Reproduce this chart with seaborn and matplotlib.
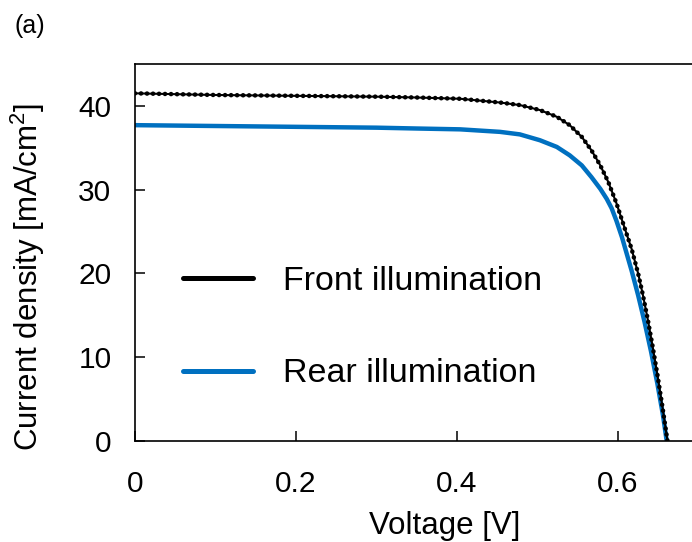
import pandas as pd
import seaborn as sns
import matplotlib.pyplot as plt
from matplotlib.lines import Line2D

# --- DANE ---
napiecie_front = [0.0, 0.1, 0.2, 0.3, 0.35, 0.404, 0.4534, 0.478, 0.503, 0.524, 0.54, 0.555,
                  0.567, 0.578, 0.588, 0.598, 0.609, 0.617, 0.625, 0.631, 0.637, 0.643,
                  0.649, 0.655, 0.6615]
prad_front = [41.5, 41.3, 41.2, 41.1, 41.0, 40.85, 40.4, 40.1, 39.5, 38.7, 37.7, 36.3,
              34.7, 32.9, 30.9, 28.4, 25.2, 22.9, 20.0, 17.4, 14.5, 11.3,
              7.9, 4.2, 0.0]

napiecie_rear = [0.0, 0.1, 0.2, 0.3, 0.35, 0.404, 0.4534, 0.478, 0.503, 0.524, 0.54, 0.555,
                 0.567, 0.578, 0.586, 0.592, 0.598, 0.605, 0.617, 0.625, 0.633, 0.641,
                 0.649, 0.656, 0.6605]
prad_rear = [37.7, 37.6, 37.5, 37.4, 37.3, 37.2, 36.9, 36.6, 35.9, 35.1, 34.1, 32.9,
             31.5, 30.1, 28.9, 27.8, 26.3, 24.3, 20.3, 17.4, 14.2, 10.7,
             6.8, 3.0, 0.0]

etykiety = ['Front illumination', 'Rear illumination']
kolory = ['black', '#0070C0']
x_ticks = [0, 0.2, 0.4, 0.6]
y_ticks = [0, 10, 20, 30, 40]

# --- STYL ---
sns.set_theme(style="ticks")
plt.rcParams['font.family'] = ['Liberation Sans', 'DejaVu Sans']
plt.rcParams['mathtext.fontset'] = 'custom'
plt.rcParams['mathtext.rm'] = 'Liberation Sans'
for klucz in ['text.color', 'axes.labelcolor', 'xtick.color', 'ytick.color', 'axes.edgecolor']:
    plt.rcParams[klucz] = 'black'

df_front = pd.DataFrame({'V': napiecie_front, 'J': prad_front})
df_rear = pd.DataFrame({'V': napiecie_rear, 'J': prad_rear})

fig = plt.figure(figsize=(6.92, 5.42), dpi=100)
# os X wychodzi poza prawa krawedz rysunku (jak w oryginale)
ax = fig.add_axes([135 / 692, 101 / 542, 644 / 692, 377 / 542])

# Tyl - linia ciagla
sns.lineplot(data=df_rear, x='V', y='J', ax=ax, color=kolory[1], linewidth=3.2,
             estimator=None, sort=False)
# Przod - cienka linia + kropki
sns.lineplot(data=df_front, x='V', y='J', ax=ax, color=kolory[0], linewidth=1.5,
             estimator=None, sort=False)
ax.lines[-1].set_zorder(3)
sns.lineplot(data=df_front, x='V', y='J', ax=ax, color=kolory[0], linewidth=3.3,
             estimator=None, sort=False)
linia_front = ax.lines[-1]
linia_front.set_linestyle((0, (0.01, 1.3)))
linia_front.set_dash_capstyle('round')
linia_front.set_zorder(3)

ax.set_xlim(0, 0.8)
ax.set_ylim(0, 45)
ax.set_xticks(x_ticks)
ax.set_xticklabels(['0', '0.2', '0.4', '0.6'])
ax.set_yticks(y_ticks)

for s in ax.spines.values():
    s.set_linewidth(1.2)
ax.tick_params(direction='in', length=7, width=1.1, labelsize=21.5)
ax.tick_params(axis='x', pad=21)
ax.tick_params(axis='y', pad=17)

ax.set_xlabel('Voltage [V]', fontsize=22.5)
ax.xaxis.set_label_coords(0.481, -0.187)
ax.set_ylabel('Current density [mA/cm$^2$]', fontsize=22.5, va='center')
ax.yaxis.set_label_coords(-0.166, 0.435)

# Legenda (bez ramki)
uchwyty = [Line2D([0], [0], color=kolory[0], lw=3.6),
           Line2D([0], [0], color=kolory[1], lw=3.6)]
ax.legend(uchwyty, etykiety, loc='center left', frameon=False, fontsize=24.5,
          handlelength=2.05, handletextpad=0.88, labelspacing=1.82,
          borderpad=0, borderaxespad=0,
          bbox_to_anchor=(183 / 692, 1 - 327.5 / 542), bbox_transform=fig.transFigure)

fig.text(15 / 692, 1 - 26 / 542, '(a)', fontsize=18, va='center', ha='left')

plt.savefig('out.png', dpi=100)
